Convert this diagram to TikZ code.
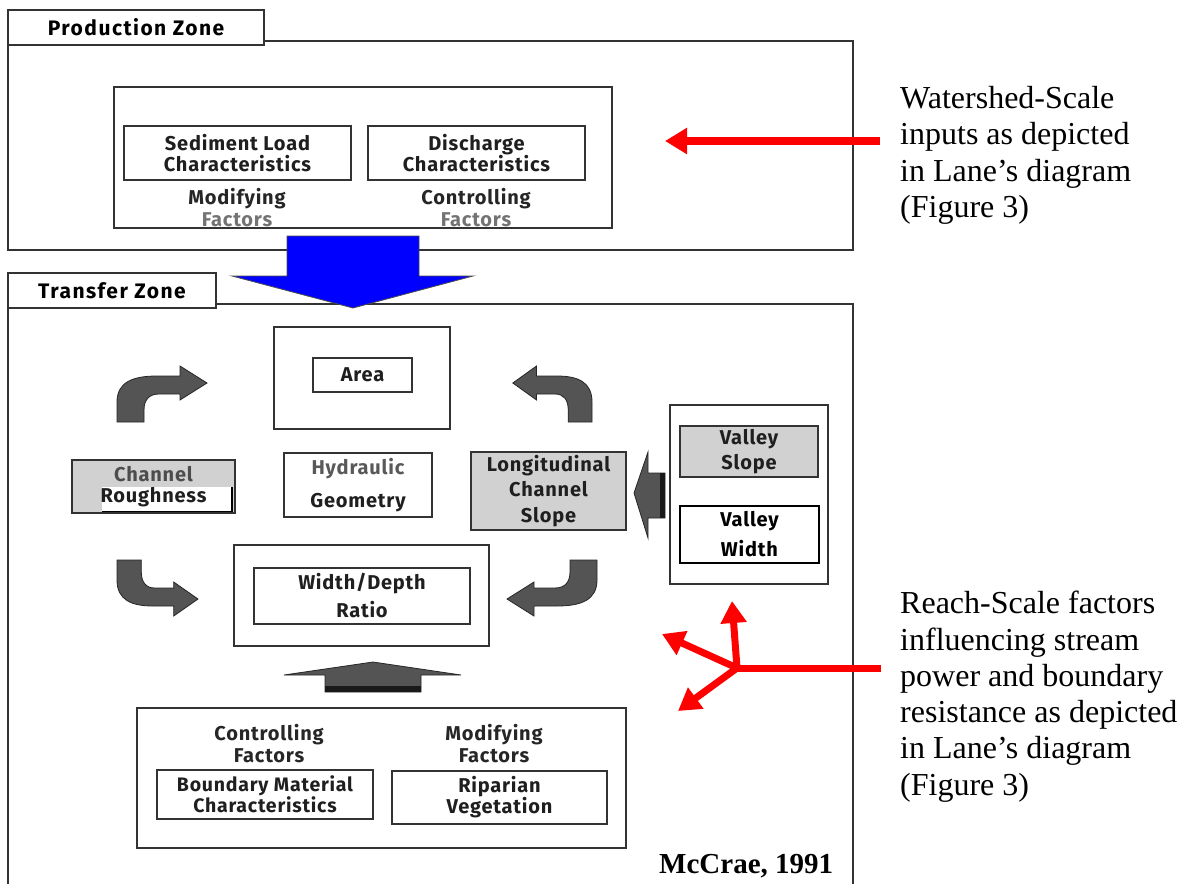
\documentclass[tikz,border=0pt]{standalone}
\usepackage{fontspec}
\setmainfont{Liberation Serif}
\newfontfamily\diagfont{Fira Sans}[LetterSpace=4]
\usetikzlibrary{arrows.meta}

\begin{document}
\begin{tikzpicture}[x=1pt,y=-1pt,
    box/.style={draw=black!80, line width=1.3pt, fill=white, inner sep=0pt,
      align=center, text=black!88,
      font=\diagfont\bfseries\fontsize{20}{21}\selectfont},
    graybox/.style={box, fill=black!18},
    tabbox/.style={box, text=black,
      font=\diagfont\bfseries\addfontfeature{LetterSpace=7}\fontsize{21}{22}\selectfont},
    factortext/.style={align=center, inner sep=0pt, text=black!85,
      font=\diagfont\bfseries\fontsize{20}{22}\selectfont},
    sidenote/.style={align=left, anchor=north west, inner sep=0pt,
      font=\fontsize{32}{36.3}\selectfont},
    zoneline/.style={draw=black!80, line width=1.5pt},
    blockarrow/.style={fill=black!67, draw=black!85, line width=0.8pt},
    redline/.style={draw=red, line width=7pt},
    redarrow/.style={redline, -{Triangle[length=22pt,width=25pt]}},
    turnarrow/.pic={
      \filldraw[blockarrow] (0,0) -- (0,-20)
        .. controls (0,-40) and (16,-46) .. (40,-46) -- (63,-46)
        -- (63,-56) -- (90,-39) -- (63,-22) -- (63,-28) -- (42,-28)
        .. controls (32,-28) and (27,-22) .. (27,-12) -- (27,0) -- cycle;
    }
  ]
  \useasboundingbox (0,0) rectangle (1190,883);
  \fill[white] (0,0) rectangle (1190,883);

  % production zone
  \draw[zoneline] (8,41) rectangle (853,250);
  \node[tabbox, minimum width=256pt, minimum height=35pt] (prodtab)
    at (136,27.5) {Production Zone};
  \node[box, line width=1.1pt, minimum width=498pt, minimum height=141pt]
    (prodin) at (363,157.5) {};
  \node[box, minimum width=227pt, minimum height=54pt] (sedload)
    at (237.5,153) {Sediment Load\\Characteristics};
  \node[box, minimum width=217pt, minimum height=54pt] (discharge)
    at (476.5,153) {Discharge\\Characteristics};
  \node[factortext] (modtop) at (237,208)
    {Modifying\\\textcolor{black!55}{Factors}};
  \node[factortext] (ctrltop) at (476,208)
    {Controlling\\\textcolor{black!55}{Factors}};

  % transfer zone
  \draw[zoneline] (8,304) rectangle (853,900);
  \node[tabbox, minimum width=208pt, minimum height=35pt] (transtab)
    at (112,290.5) {Transfer Zone};
  \filldraw[fill=blue, draw=black!70, line width=0.8pt]
    (287,236) -- (419,236) -- (419,276) -- (473,276) -- (353,308)
    -- (232,276) -- (287,276) -- cycle;

  \node[box, line width=1.1pt, minimum width=176pt, minimum height=102pt]
    (areaout) at (362,378) {};
  \node[box, minimum width=99pt, minimum height=34pt] (area)
    at (362.5,375) {Area};
  \node[box, minimum width=148pt, minimum height=64pt,
    font=\diagfont\bfseries\fontsize{20}{33}\selectfont] (hydro)
    at (358,485) {\textcolor{black!65}{Hydraulic}\\Geometry};
  \node[graybox, minimum width=163pt, minimum height=53pt,
    path picture={
      \fill[white] ([shift={(30pt,0pt)}]path picture bounding box.south west)
        rectangle ([shift={(-3pt,26pt)}]path picture bounding box.south east);
      \draw[black, line width=1.6pt]
        ([shift={(-3pt,26pt)}]path picture bounding box.south east)
        -- ([shift={(-3pt,1pt)}]path picture bounding box.south east)
        -- ([shift={(30pt,1pt)}]path picture bounding box.south west);
    }] (rough) at (153.5,486.5) {\textcolor{black!70}{Channel}\\Roughness};
  \node[graybox, minimum width=155pt, minimum height=78pt,
    font=\diagfont\bfseries\fontsize{20}{25.5}\selectfont] (longslope)
    at (548.5,491) {Longitudinal\\Channel\\Slope};

  \node[box, line width=1.1pt, minimum width=158pt, minimum height=179pt]
    (valley) at (749,494.5) {};
  \node[graybox, minimum width=138pt, minimum height=51pt,
    font=\diagfont\bfseries\fontsize{20}{25}\selectfont] (vslope)
    at (749,451.5) {Valley\\Slope};
  \node[box, draw=black, line width=2pt, text=black, minimum width=139pt,
    minimum height=57pt, font=\diagfont\bfseries\fontsize{20}{30}\selectfont]
    (vwidth) at (749.5,534.5) {Valley\\Width};
  \filldraw[blockarrow] (665,473) -- (648,473) -- (648,452) -- (634,493)
    -- (648,538) -- (648,518) -- (665,518) -- cycle;
  \fill[black!90] (660,473) rectangle (665,518);

  \node[box, line width=1.1pt, minimum width=255pt, minimum height=101pt]
    (wdout) at (361.5,595.5) {};
  \node[box, minimum width=216pt, minimum height=56pt,
    font=\diagfont\bfseries\fontsize{20}{28}\selectfont] (wdratio)
    at (362,596) {Width/Depth\\Ratio};

  % turning arrows round the hydraulic geometry
  \pic at (117,422) {turnarrow};
  \pic[xscale=-0.88] at (592,422) {turnarrow};
  \pic[xscale=0.9, yscale=-1] at (117,560) {turnarrow};
  \pic[xscale=-1, yscale=-1] at (597,560) {turnarrow};

  \filldraw[blockarrow] (284,675) -- (373,662) -- (461,675) -- (421,675)
    -- (421,692) -- (325,692) -- (325,675) -- cycle;
  \fill[black!90] (325,686) rectangle (421,692);

  \node[box, line width=1.1pt, minimum width=489pt, minimum height=140pt]
    (reachbox) at (381.5,778) {};
  \node[factortext] (ctrlbot) at (269,744) {Controlling\\Factors};
  \node[factortext] (modbot) at (494,744) {Modifying\\Factors};
  \node[box, minimum width=216pt, minimum height=49pt,
    font=\diagfont\bfseries\fontsize{19.5}{20}\selectfont] (boundary)
    at (265,794.5) {Boundary Material\\Characteristics};
  \node[box, minimum width=215pt, minimum height=53pt] (riparian)
    at (499.5,797.5) {Riparian\\Vegetation};

  % notes
  \node[sidenote] (watershed) at (900,86)
    {Watershed-Scale\\inputs as depicted\\in Lane’s diagram\\(Figure 3)};
  \node[sidenote] (reach) at (900,591)
    {Reach-Scale factors\\influencing stream\\power and boundary\\resistance as depicted\\in Lane’s diagram\\(Figure 3)};
  \node[anchor=base west, inner sep=0pt,
    font=\bfseries\fontsize{29}{34}\selectfont] (credit)
    at (659,873) {McCrae, 1991};

  \coordinate (wstail) at (880,141);
  \coordinate (wstip) at (665,141);
  \draw[redarrow, line width=8pt] (wstail) -- (wstip);

  \coordinate (hub) at (737,668);
  \coordinate (rstail) at (881,668);
  \coordinate (toValley) at (732,601);
  \coordinate (toWidth) at (662,634);
  \coordinate (toBottom) at (678,711);
  \draw[redline] (rstail) -- (hub);
  \foreach \t in {toValley,toWidth,toBottom}
    \draw[redarrow] (hub) -- (\t);
\end{tikzpicture}
\end{document}
